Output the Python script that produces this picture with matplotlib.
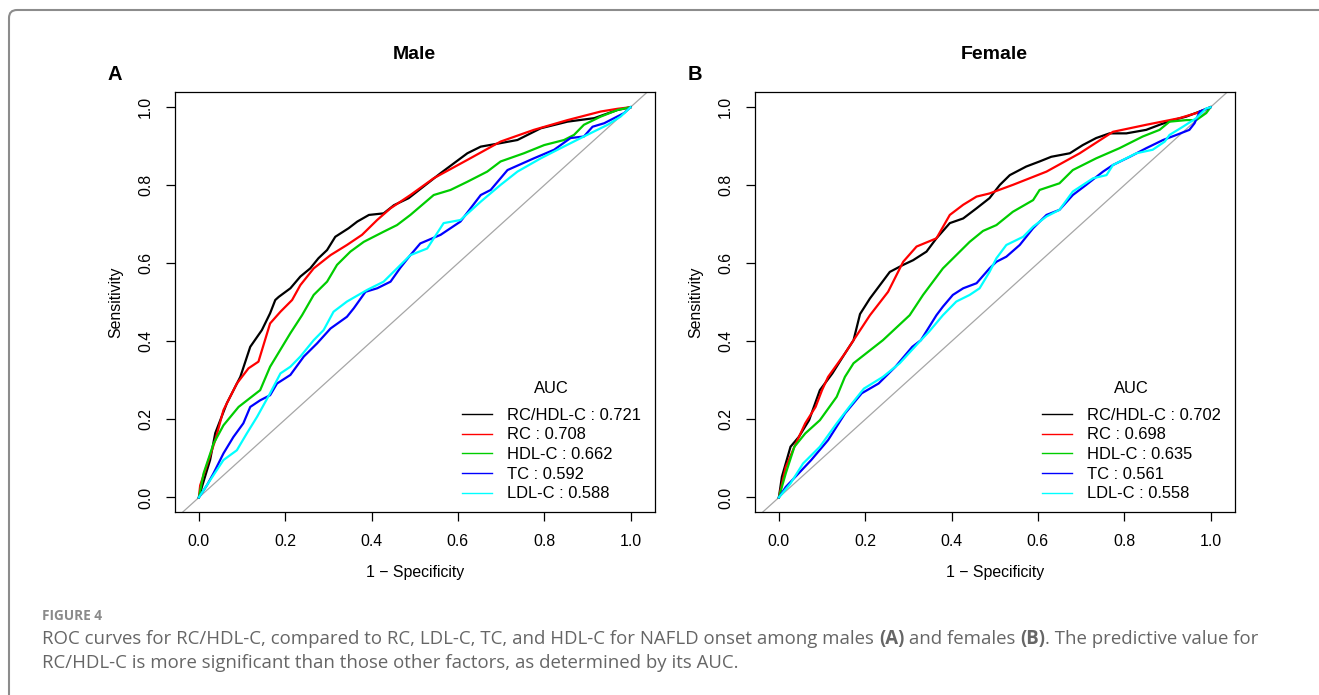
import numpy as np
import matplotlib
matplotlib.use('Agg')
import matplotlib.pyplot as plt
from matplotlib.lines import Line2D
from matplotlib.patches import FancyBboxPatch

plt.rcParams['font.family'] = ['Liberation Sans', 'DejaVu Sans']

# --- data: (1 - specificity, sensitivity) ---
markers = ['RC/HDL-C', 'RC', 'HDL-C', 'TC', 'LDL-C']
colors = ['black', 'red', '#00cd00', 'blue', 'cyan']
male_auc = [0.721, 0.708, 0.662, 0.592, 0.588]
female_auc = [0.702, 0.698, 0.635, 0.561, 0.558]

male_rchdl_x = [0, 0.007, 0.026, 0.038, 0.065, 0.096, 0.119, 0.146, 0.165, 0.177, 0.185, 0.212, 0.235, 0.258, 0.277,
                0.297, 0.316, 0.347, 0.367, 0.394, 0.428, 0.452, 0.486, 0.560, 0.622, 0.653, 0.699, 0.738, 0.792,
                0.854, 0.916, 0.970, 1.0]
male_rchdl_y = [0, 0.027, 0.096, 0.165, 0.242, 0.309, 0.386, 0.429, 0.472, 0.506, 0.514, 0.536, 0.566, 0.587, 0.613,
                0.634, 0.668, 0.690, 0.707, 0.724, 0.728, 0.749, 0.767, 0.831, 0.882, 0.899, 0.908, 0.916, 0.946,
                0.963, 0.972, 0.993, 1.0]
male_rc_x = [0, 0.003, 0.038, 0.057, 0.088, 0.115, 0.138, 0.165, 0.189, 0.216, 0.235, 0.266, 0.305, 0.343, 0.378,
             0.413, 0.444, 0.467, 0.490, 0.544, 0.622, 0.699, 0.776, 0.854, 0.931, 0.970, 1.0]
male_rc_y = [0, 0.031, 0.147, 0.224, 0.292, 0.331, 0.348, 0.446, 0.476, 0.506, 0.544, 0.587, 0.621, 0.647, 0.673,
             0.711, 0.741, 0.758, 0.775, 0.818, 0.865, 0.912, 0.942, 0.967, 0.989, 0.996, 1.0]
male_hdl_x = [0, 0.011, 0.034, 0.057, 0.092, 0.142, 0.165, 0.212, 0.239, 0.266, 0.297, 0.320, 0.351, 0.382, 0.428,
              0.459, 0.490, 0.544, 0.583, 0.622, 0.668, 0.699, 0.753, 0.800, 0.846, 0.869, 0.892, 0.931, 0.970, 1.0]
male_hdl_y = [0, 0.062, 0.138, 0.185, 0.232, 0.275, 0.335, 0.421, 0.467, 0.519, 0.553, 0.596, 0.630, 0.655, 0.681,
              0.698, 0.724, 0.775, 0.788, 0.809, 0.835, 0.861, 0.882, 0.903, 0.916, 0.929, 0.955, 0.976, 0.993, 1.0]
male_tc_x = [0, 0.019, 0.034, 0.057, 0.080, 0.103, 0.119, 0.142, 0.165, 0.181, 0.212, 0.243, 0.274, 0.305, 0.343,
             0.359, 0.386, 0.413, 0.444, 0.467, 0.490, 0.513, 0.560, 0.606, 0.653, 0.676, 0.715, 0.776, 0.823, 0.861,
             0.892, 0.912, 0.939, 0.962, 0.985, 1.0]
male_tc_y = [0, 0.032, 0.062, 0.113, 0.155, 0.190, 0.232, 0.249, 0.262, 0.292, 0.314, 0.361, 0.395, 0.433, 0.463,
             0.485, 0.527, 0.536, 0.553, 0.589, 0.621, 0.651, 0.673, 0.707, 0.775, 0.788, 0.839, 0.869, 0.891, 0.921,
             0.925, 0.950, 0.959, 0.972, 0.985, 1.0]
male_ldl_x = [0, 0.026, 0.057, 0.088, 0.111, 0.135, 0.165, 0.189, 0.212, 0.235, 0.266, 0.289, 0.312, 0.343, 0.390,
              0.428, 0.459, 0.490, 0.529, 0.567, 0.606, 0.653, 0.699, 0.738, 0.792, 0.838, 0.892, 0.947, 0.977, 1.0]
male_ldl_y = [0, 0.044, 0.096, 0.121, 0.164, 0.207, 0.267, 0.318, 0.335, 0.361, 0.403, 0.429, 0.476, 0.502, 0.532,
              0.553, 0.587, 0.621, 0.638, 0.703, 0.711, 0.758, 0.801, 0.835, 0.869, 0.895, 0.925, 0.955, 0.976, 1.0]

female_rchdl_x = [0, 0.007, 0.027, 0.046, 0.070, 0.095, 0.124, 0.153, 0.173, 0.188, 0.211, 0.234, 0.257, 0.288,
                  0.311, 0.342, 0.365, 0.396, 0.427, 0.458, 0.488, 0.512, 0.535, 0.573, 0.604, 0.631, 0.674, 0.704,
                  0.735, 0.766, 0.805, 0.851, 0.882, 0.913, 0.944, 0.975, 1.0]
female_rchdl_y = [0, 0.053, 0.130, 0.155, 0.198, 0.275, 0.318, 0.369, 0.403, 0.470, 0.510, 0.544, 0.578, 0.596,
                  0.608, 0.630, 0.664, 0.703, 0.715, 0.741, 0.767, 0.801, 0.826, 0.848, 0.861, 0.873, 0.882, 0.903,
                  0.921, 0.933, 0.933, 0.942, 0.955, 0.967, 0.976, 0.989, 1.0]
female_rc_x = [0, 0.016, 0.036, 0.061, 0.085, 0.100, 0.114, 0.153, 0.173, 0.211, 0.253, 0.288, 0.319, 0.365, 0.396,
               0.427, 0.458, 0.488, 0.542, 0.620, 0.697, 0.774, 0.851, 0.928, 0.967, 1.0]
female_rc_y = [0, 0.078, 0.130, 0.190, 0.232, 0.275, 0.309, 0.369, 0.403, 0.467, 0.527, 0.604, 0.643, 0.664, 0.724,
               0.750, 0.771, 0.779, 0.801, 0.835, 0.882, 0.937, 0.955, 0.972, 0.985, 1.0]
female_hdl_x = [0, 0.016, 0.036, 0.061, 0.095, 0.134, 0.153, 0.173, 0.241, 0.303, 0.334, 0.357, 0.380, 0.411, 0.442,
                0.473, 0.504, 0.542, 0.589, 0.604, 0.650, 0.681, 0.735, 0.789, 0.843, 0.882, 0.905, 0.944, 0.967,
                0.990, 1.0]
female_hdl_y = [0, 0.062, 0.130, 0.164, 0.198, 0.258, 0.309, 0.344, 0.403, 0.467, 0.519, 0.553, 0.587, 0.621, 0.655,
                0.683, 0.698, 0.732, 0.762, 0.788, 0.805, 0.839, 0.869, 0.895, 0.925, 0.942, 0.963, 0.967, 0.967,
                0.985, 1.0]
female_tc_x = [0, 0.016, 0.046, 0.075, 0.114, 0.153, 0.192, 0.231, 0.270, 0.309, 0.329, 0.365, 0.380, 0.403, 0.427,
               0.458, 0.488, 0.504, 0.527, 0.558, 0.589, 0.620, 0.650, 0.681, 0.712, 0.751, 0.774, 0.813, 0.851,
               0.890, 0.921, 0.951, 0.963, 0.975, 1.0]
female_tc_y = [0, 0.027, 0.062, 0.096, 0.147, 0.215, 0.267, 0.292, 0.335, 0.386, 0.403, 0.467, 0.489, 0.519, 0.536,
               0.549, 0.587, 0.604, 0.617, 0.647, 0.690, 0.724, 0.737, 0.775, 0.801, 0.835, 0.852, 0.873, 0.895,
               0.916, 0.929, 0.942, 0.959, 0.989, 1.0]
female_ldl_x = [0, 0.027, 0.056, 0.095, 0.134, 0.163, 0.197, 0.241, 0.280, 0.329, 0.348, 0.380, 0.411, 0.442, 0.465,
                0.488, 0.504, 0.527, 0.566, 0.589, 0.620, 0.650, 0.681, 0.728, 0.759, 0.774, 0.828, 0.866, 0.894,
                0.905, 0.936, 0.967, 0.990, 1.0]
female_ldl_y = [0, 0.036, 0.087, 0.130, 0.190, 0.232, 0.279, 0.309, 0.344, 0.403, 0.425, 0.467, 0.502, 0.519, 0.536,
                0.578, 0.613, 0.647, 0.668, 0.694, 0.720, 0.737, 0.784, 0.818, 0.826, 0.852, 0.882, 0.891, 0.912,
                0.929, 0.950, 0.972, 0.997, 1.0]

male_curves = [(male_rchdl_x, male_rchdl_y), (male_rc_x, male_rc_y), (male_hdl_x, male_hdl_y),
               (male_tc_x, male_tc_y), (male_ldl_x, male_ldl_y)]
female_curves = [(female_rchdl_x, female_rchdl_y), (female_rc_x, female_rc_y), (female_hdl_x, female_hdl_y),
                 (female_tc_x, female_tc_y), (female_ldl_x, female_ldl_y)]

W, H = 1319, 695
fig = plt.figure(figsize=(W / 100, H / 100), dpi=100)

# border of the figure box (runs off right and bottom)
fig.patches.append(FancyBboxPatch((9, -30), 1400, 715, boxstyle='round,pad=0,rounding_size=8',
                                  transform=None, fill=False, edgecolor='#8c8c8c', linewidth=1.5))

fs = 11.4
leg_fs = 11.9
panels = [
    ('Male', 'A', male_curves, male_auc, 174.7),
    ('Female', 'B', female_curves, female_auc, 754.7),
]
for title, letter, curves, aucs, left in panels:
    ax = fig.add_axes([left / W, 1 - 512.3 / H, 480 / W, 420.3 / H])
    ax.axline((0, 0), (1, 1), color='#a6a6a6', lw=0.9, zorder=1)
    for (x, y), c in zip(curves, colors):
        ax.plot(x, y, color=c, lw=1.6, zorder=2)
    ax.set_xlim(-0.056, 1.056)
    ax.set_ylim(-0.038, 1.039)
    ax.set_xticks([0, 0.2, 0.4, 0.6, 0.8, 1.0])
    ax.set_yticks([0, 0.2, 0.4, 0.6, 0.8, 1.0])
    ax.set_xticklabels(['0.0', '0.2', '0.4', '0.6', '0.8', '1.0'])
    ax.set_yticklabels(['0.0', '0.2', '0.4', '0.6', '0.8', '1.0'])
    ax.tick_params(direction='out', length=6.5, width=0.9, labelsize=fs, pad=9)
    ax.tick_params(axis='y', labelrotation=90)
    for lab in ax.get_yticklabels():
        lab.set_va('center')
    for s in ax.spines.values():
        s.set_linewidth(0.9)
    ax.set_xlabel('1 \u2212 Specificity', fontsize=fs)
    ax.xaxis.label.set_va('center')
    ax.xaxis.set_label_coords(0.5, -(573 - 512.3) / 420.3)
    ax.set_ylabel('Sensitivity', fontsize=fs)
    ax.yaxis.label.set_va('center')
    ax.yaxis.set_label_coords(-(174.7 - 115.5) / 480, 0.5)
    ax.set_title(title, fontsize=14, fontweight='bold', pad=24)
    fig.text((left - 60) / W, 1 - 74 / H, letter, fontsize=14.5, fontweight='bold', ha='center', va='center')

    handles = [Line2D([], [], color=c, lw=1.0) for c in colors]
    labels = ['%s : %.3f' % (m, a) for m, a in zip(markers, aucs)]
    leg = ax.legend(handles, labels, title='AUC', loc='lower right', bbox_to_anchor=(0.972, 0.026),
                    frameon=False, fontsize=leg_fs, title_fontsize=leg_fs, handlelength=1.82,
                    handletextpad=0.91, labelspacing=0.28, borderpad=0, borderaxespad=0)
    leg._legend_box.sep = 8.5  # extra gap below the "AUC" title, as in the original

# caption
renderer = fig.canvas.get_renderer()


def draw_runs(x, y, runs, **kw):
    for s, bold in runs:
        t = fig.text(x, H - y, s, transform=None, fontweight='bold' if bold else 'normal', va='center', **kw)
        x += t.get_window_extent(renderer).width


cap_kw = dict(fontsize=13.45, color='#666666', family=['Open Sans', 'DejaVu Sans'])
fig.text(42, H - 616, 'FIGURE 4', transform=None, va='center', fontsize=9.8, fontweight='bold',
         color='#8a8a8a', family=['Open Sans', 'DejaVu Sans'])
draw_runs(42, 639, [('ROC curves for RC/HDL-C, compared to RC, LDL-C, TC, and HDL-C for NAFLD onset among males ', False),
                    ('(A)', True), (' and females ', False), ('(B)', True),
                    ('. The predictive value for', False)], **cap_kw)
draw_runs(42, 663, [('RC/HDL-C is more significant than those other factors, as determined by its AUC.', False)], **cap_kw)

fig.savefig('out.png', dpi=100)
